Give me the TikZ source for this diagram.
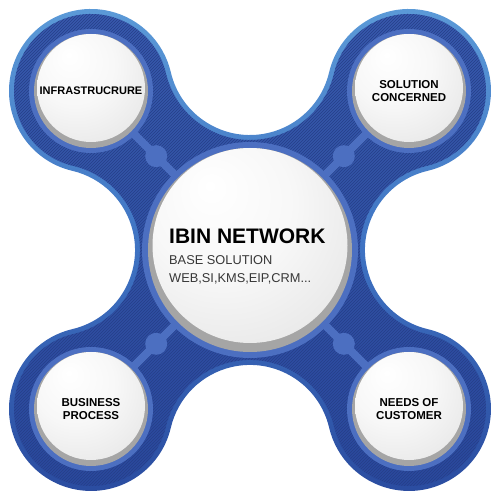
\documentclass[tikz,border=0pt]{standalone}
\usepackage{fontspec}
\setmainfont{Liberation Sans}
\usetikzlibrary{positioning, calc, backgrounds, patterns}
\definecolor{edgetop}{RGB}{92,155,216}
\definecolor{edgemid}{RGB}{62,114,194}
\definecolor{edgebot}{RGB}{42,75,159}
\definecolor{bodytop}{RGB}{56,90,173}
\definecolor{bodybot}{RGB}{42,72,156}
\definecolor{ringblue}{RGB}{76,111,193}
\definecolor{rimgray}{RGB}{165,165,165}
\definecolor{subgray}{RGB}{55,55,55}

\pgfdeclareradialshading{discshade}{\pgfpoint{-10bp}{16bp}}{%
  color(0bp)=(white); color(18bp)=(gray!6);
  color(40bp)=(gray!22); color(64bp)=(gray!44)}

% outline of the blue body, #1 = inset
\newcommand{\blobpath}[1]{%
  ([shift={(13.2:{82-#1})}]91,409)
  arc[start angle=193.2, end angle=346.8, radius={81.3+#1}]
  arc[start angle=166.8, end angle=-76.8, radius={82-#1}]
  arc[start angle=103.2, end angle=256.8, radius={81.3+#1}]
  arc[start angle=76.8, end angle=-166.8, radius={82-#1}]
  arc[start angle=13.2, end angle=166.8, radius={81.3+#1}]
  arc[start angle=-13.2, end angle=-256.8, radius={82-#1}]
  arc[start angle=-76.8, end angle=76.8, radius={81.3+#1}]
  arc[start angle=256.8, end angle=13.2, radius={82-#1}]
  -- cycle}

\begin{document}
\begin{tikzpicture}[
  x=1pt, y=1pt,
  leaf/.style={circle, minimum size=114pt, inner sep=0pt, fill=rimgray,
               preaction={draw=ringblue, line width=10pt},
               path picture={\fill[shading=discshade]
                 ([yshift=3pt]path picture bounding box.center) circle (54pt);},
               align=center, font=\fontsize{11.5}{12.5}\selectfont\bfseries},
  hub/.style={circle, minimum size=204pt, inner sep=0pt, fill=rimgray,
              preaction={draw=ringblue, line width=12pt},
              path picture={\fill[shading=discshade]
                ([yshift=4.5pt]path picture bounding box.center) circle (97.5pt);}},
  title/.style={anchor=base west, inner sep=0pt,
                font=\fontsize{21}{21}\selectfont\bfseries},
  sub/.style={anchor=base west, inner sep=0pt, text=subgray,
              font=\fontsize{12.8}{14}\selectfont},
  link/.style={draw=ringblue, line width=8pt},
  joint/.style={fill=ringblue}
]
\useasboundingbox (0,0) rectangle (500,500);

% Discs
\node[hub] (hub) at (250,250) {};
\node[leaf, font=\fontsize{11}{12.5}\selectfont\bfseries] (infra) at (91,409) {INFRASTRUCRURE};
\node[leaf] (sol)   at (409,409) {SOLUTION\\CONCERNED};
\node[leaf] (biz)   at (91,91) {BUSINESS\\PROCESS};
\node[leaf] (needs) at (409,91) {NEEDS OF\\CUSTOMER};

% Center text
\node[title] (name) at ([shift={(-81pt,6pt)}]hub.center) {IBIN NETWORK};
\node[sub] (base) at ([shift={(-81pt,-15pt)}]hub.center) {BASE SOLUTION};
\node[sub] (list) at ([shift={(-81pt,-33pt)}]hub.center) {WEB,SI,KMS,EIP,CRM...};

\begin{scope}[on background layer]
  % Body
  \shade[top color=edgetop, bottom color=edgebot, middle color=edgemid] \blobpath{0};
  \shade[top color=bodytop, bottom color=bodybot] \blobpath{5};
  \fill[pattern=north east lines, pattern color=bodybot!88!black] \blobpath{5};
  % Links
  \foreach \leafnode in {infra, sol, biz, needs} {
    \draw[link] (\leafnode.center) -- (hub.center);
    \fill[joint] ($(\leafnode.center)!0.41!(hub.center)$) circle (11);
  }
\end{scope}

\end{tikzpicture}
\end{document}
